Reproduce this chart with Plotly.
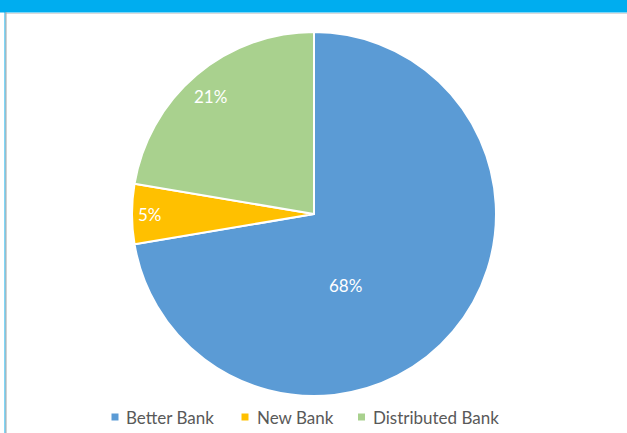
import math
import plotly.graph_objects as go

# Share of customers by bank
banks = ["Better Bank", "New Bank", "Distributed Bank"]
shares = [68, 5, 21]
colors = ["#5B9BD5", "#FFC000", "#A9D18E"]

W, H = 627, 433

# pie geometry in pixels
CX, CY, R = 314, 214, 182
# label placement per slice: (angle shift in degrees, fraction of radius)
label_place = [(26, 0.43), (0, 0.90), (-1, 0.86)]

# legend placement in pixels: (square left, text left)
legend_x = [(111.5, 124), (241.5, 255), (358, 371)]
LEG_Y = 417


def px(x):
    return x / W


def py(y):
    return 1 - y / H


fig = go.Figure(
    go.Pie(
        labels=banks,
        values=shares,
        sort=False,
        direction="clockwise",
        rotation=0,
        marker=dict(colors=colors, line=dict(color="white", width=2)),
        textinfo="none",
        hoverinfo="label+value",
        showlegend=False,
        domain=dict(x=[px(CX - R), px(CX + R)], y=[py(CY + R), py(CY - R)]),
    )
)

annotations = []
shapes = []

# value labels, placed along each slice's angle
total = sum(shares)
start = 0.0
for val, (shift, frac) in zip(shares, label_place):
    sweep = 360 * val / total
    ang = math.radians(start + sweep / 2 + shift)
    lx = CX + frac * R * math.sin(ang)
    ly = CY - frac * R * math.cos(ang)
    annotations.append(dict(
        x=px(lx), y=py(ly), xref="paper", yref="paper", showarrow=False,
        text=f"{val}%", xanchor="center", yanchor="middle",
        font=dict(family="Lato", size=17, color="white"),
    ))
    start += sweep

# legend
for name, col, (sx, tx) in zip(banks, colors, legend_x):
    shapes.append(dict(type="rect", xref="paper", yref="paper",
                       x0=px(sx), x1=px(sx + 7), y0=py(LEG_Y + 3.5), y1=py(LEG_Y - 3.5),
                       fillcolor=col, line=dict(width=0)))
    annotations.append(dict(
        x=px(tx), y=py(LEG_Y), xref="paper", yref="paper", showarrow=False,
        text=name, xanchor="left", yanchor="middle",
        font=dict(family="Lato", size=17, color="#595959"),
    ))

# header bar and frame edge
shapes += [
    dict(type="rect", xref="paper", yref="paper", x0=0, x1=1,
         y0=py(12.5), y1=1, fillcolor="#00ADEF", line=dict(width=0)),
    dict(type="line", xref="paper", yref="paper", x0=px(5.5), x1=1,
         y0=py(13.5), y1=py(13.5), line=dict(color="#D9D9D9", width=1)),
    dict(type="line", xref="paper", yref="paper", x0=px(5), x1=px(5),
         y0=0, y1=py(12), line=dict(color="#00ADEF", width=1)),
    dict(type="line", xref="paper", yref="paper", x0=px(6), x1=px(6),
         y0=0, y1=py(12), line=dict(color="#A6A6A6", width=1)),
]

fig.update_layout(
    width=W,
    height=H,
    margin=dict(l=0, r=0, t=0, b=0),
    paper_bgcolor="white",
    plot_bgcolor="white",
    showlegend=False,
    shapes=shapes,
    annotations=annotations,
)

fig.write_html("out.html")
